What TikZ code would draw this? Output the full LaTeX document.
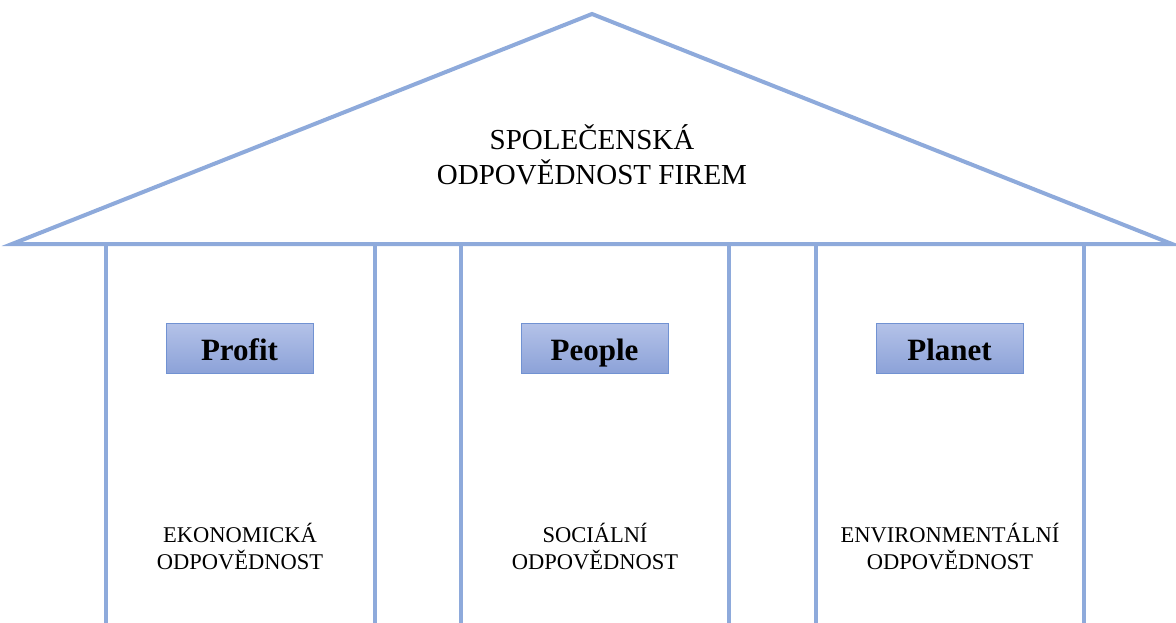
\documentclass[tikz,border=0pt]{standalone}
\usepackage{fontspec}
\setmainfont{Liberation Serif}
\definecolor{roof}{HTML}{8EAADB}
\definecolor{boxtop}{HTML}{B4C2E8}
\definecolor{boxbot}{HTML}{8CA2D8}
\definecolor{boxedge}{HTML}{7192D2}
\tikzset{
  house/.style={draw=roof,line width=4pt,line join=miter},
  pillar/.style={draw=roof,line width=4pt},
  label3p/.style={draw=boxedge,line width=0.8pt,top color=boxtop,bottom color=boxbot,
    minimum width=147pt,minimum height=50pt,inner sep=0pt,text height=26pt,text depth=2pt,
    font=\fontsize{31}{34}\selectfont\bfseries},
  sub/.style={align=center,font=\fontsize{22.5}{27}\selectfont,inner sep=0pt},
  title/.style={align=center,font=\fontsize{29}{35}\selectfont,inner sep=0pt}
}
\begin{document}
\begin{tikzpicture}[x=1pt,y=-1pt]
\useasboundingbox (0,0) rectangle (1176,623);
\coordinate (L) at (12,244);
\coordinate (T) at (592,14);
\coordinate (R) at (1172,244);
\draw[house] (L) -- (T) -- (R) -- cycle;
\foreach \x/\n in {106/a,375/b,461/c,729/d,816/e,1084/f}{
  \coordinate (p\n t) at (\x,246);
  \coordinate (p\n b) at (\x,625);
  \draw[pillar] (p\n t) -- (p\n b);
}
\node[title] (csr) at (592,155) {SPOLEČENSKÁ\\ODPOVĚDNOST FIREM};
\node[label3p] (profit) at (239.5,348) {Profit};
\node[label3p] (people) at (594.5,348) {People};
\node[label3p] (planet) at (949.5,348) {Planet};
\node[sub] (eko) at (240,547) {EKONOMICKÁ\\ODPOVĚDNOST};
\node[sub] (soc) at (595,547) {SOCIÁLNÍ\\ODPOVĚDNOST};
\node[sub] (env) at (950,547) {ENVIRONMENTÁLNÍ\\ODPOVĚDNOST};
\end{tikzpicture}
\end{document}
